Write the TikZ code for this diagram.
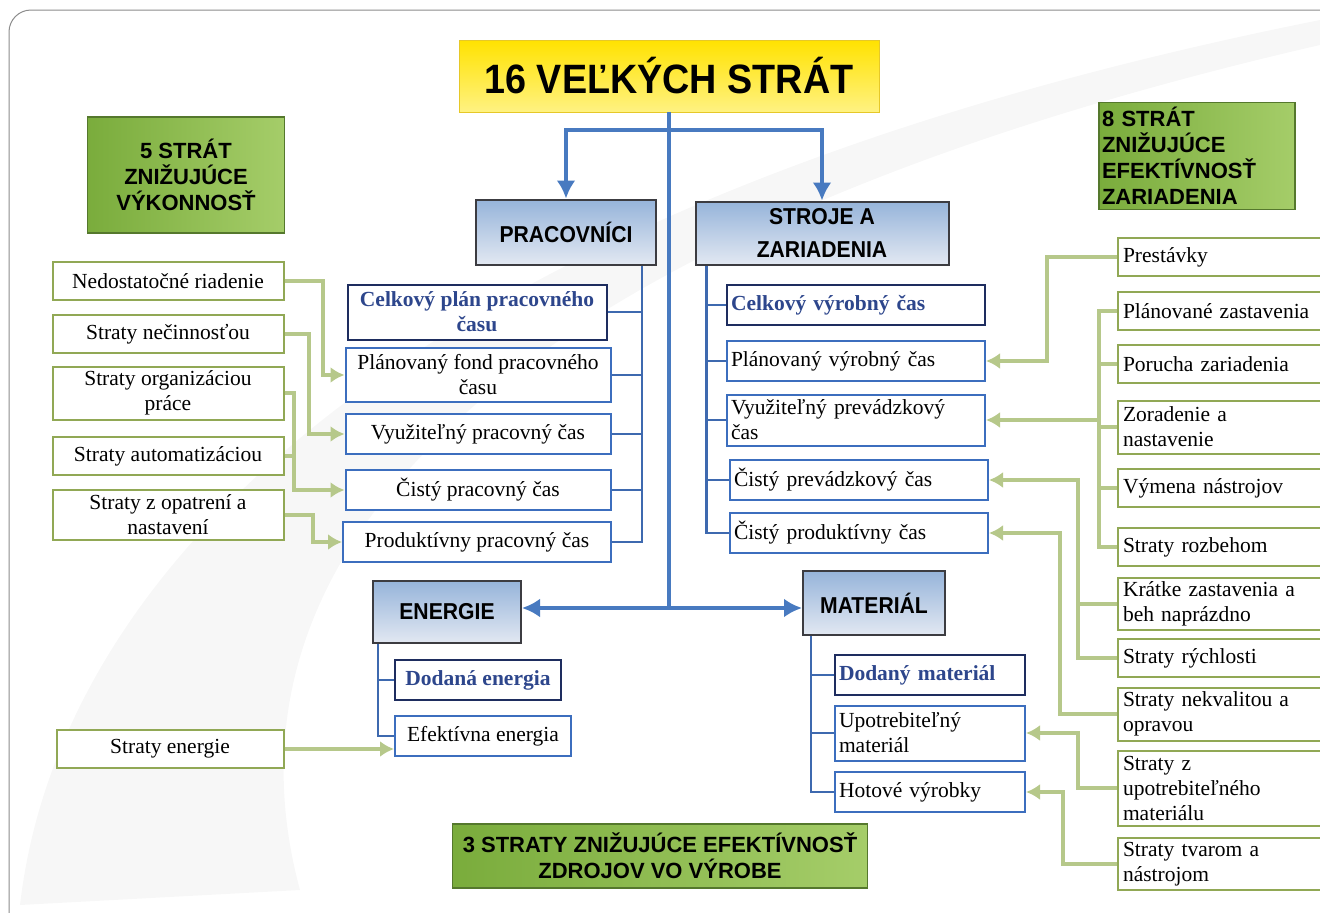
\documentclass[tikz,border=0pt]{standalone}
\usepackage{fontspec}
\setmainfont{Liberation Serif}
\setsansfont{Liberation Sans}
\newfontfamily\narrowsans[FakeStretch=0.92]{Liberation Sans}
\usepackage{tikz}
\usetikzlibrary{arrows.meta,positioning}

\definecolor{ytop}{RGB}{255,226,0}
\definecolor{ybot}{RGB}{255,242,130}
\definecolor{ybord}{RGB}{230,200,40}
\definecolor{hleft}{RGB}{122,172,60}
\definecolor{hright}{RGB}{165,205,105}
\definecolor{hbord}{RGB}{85,120,45}
\definecolor{ctop}{RGB}{150,180,218}
\definecolor{cbot}{RGB}{226,232,242}
\definecolor{cbord}{RGB}{60,60,65}
\definecolor{iblue}{RGB}{60,110,190}
\definecolor{navy}{RGB}{30,45,95}
\definecolor{navytext}{RGB}{45,70,140}
\definecolor{gbord}{RGB}{145,168,85}
\definecolor{fgreen}{RGB}{182,200,138}
\definecolor{mblue}{RGB}{72,122,192}
\definecolor{tblue}{RGB}{62,105,175}

\begin{document}
\begin{tikzpicture}[x=1pt, y=-1pt, >={Latex[length=14pt,width=16pt]}, font=\fontsize{21.5}{25}\selectfont]
      \tikzstyle{title}=[draw=ybord, line width=0.8pt, top color=ytop, bottom color=ybot, font=\narrowsans\bfseries\fontsize{41}{44}\selectfont, minimum width=420pt, minimum height=72pt]
      \tikzstyle{head}=[draw=hbord, line width=1.5pt, left color=hleft, right color=hright, font=\sffamily\bfseries\fontsize{22}{26}\selectfont, align=center, inner sep=3pt]
      \tikzstyle{cat}=[draw=cbord, line width=2pt, top color=ctop, bottom color=cbot, font=\narrowsans\bfseries\fontsize{23}{33}\selectfont, align=center]
      \tikzstyle{item}=[draw=iblue, line width=2pt, fill=white, inner xsep=4pt, inner ysep=1pt, align=center, minimum height=40pt]
      \tikzstyle{itemb}=[item, draw=navy, text=navytext, font=\bfseries\fontsize{21.5}{25}\selectfont]
      \tikzstyle{loss}=[draw=gbord, line width=2pt, fill=white, inner xsep=5pt, inner ysep=1pt, align=center, minimum height=38pt]
      \tikzstyle{rloss}=[loss, anchor=west, text width=205pt, align=left]
      \tikzstyle{main}=[draw=mblue, line width=4.5pt, >={Latex[length=18pt,width=19pt]}]
      \tikzstyle{tree}=[draw=tblue, line width=2.5pt]
      \tikzstyle{flow}=[draw=fgreen, line width=4pt]

      \useasboundingbox (0,0) rectangle (1320,913);
      \fill[black!3] (20,905) .. controls (60,560) and (420,200) .. (1320,20) -- (1320,45) .. controls (560,220) and (200,520) .. (300,890) -- cycle;
      \draw[black!45, line width=1pt, rounded corners=22pt] (9,10) rectangle (1360,940);

      \node[title] (t) at (669,76) {16 VEĽKÝCH STRÁT};
      \node[head, minimum width=197pt, minimum height=116pt] (h5) at (186,175) {5 STRÁT\\ZNIŽUJÚCE\\VÝKONNOSŤ};
      \node[head, text width=190pt, minimum height=107pt, align=left] (h8) at (1197,156) {8 STRÁT\\ZNIŽUJÚCE\\EFEKTÍVNOSŤ\\ZARIADENIA};
      \node[head, minimum width=415pt, minimum height=64pt] (h3) at (660,856) {3 STRATY ZNIŽUJÚCE EFEKTÍVNOSŤ\\ZDROJOV VO VÝROBE};

      \node[cat, minimum width=180pt, minimum height=65pt] (p) at (566,232) {PRACOVNÍCI};
      \node[cat, minimum width=253pt, minimum height=63pt] (s) at (822,233) {STROJE A\\ZARIADENIA};
      \node[cat, minimum width=148pt, minimum height=62pt] (e) at (447,612) {ENERGIE};
      \node[cat, minimum width=142pt, minimum height=64pt] (m) at (874,603) {MATERIÁL};

      \node[itemb, minimum width=259pt, minimum height=55pt] (p1) at (477,312) {Celkový plán pracovného\\času};
      \node[item, minimum width=265pt, minimum height=54pt] (p2) at (478,375) {Plánovaný fond pracovného\\času};
      \node[item, minimum width=265pt] (p3) at (478,434) {Využiteľný pracovný čas};
      \node[item, minimum width=265pt] (p4) at (478,490) {Čistý pracovný čas};
      \node[item, minimum width=268pt] (p5) at (477,542) {Produktívny pracovný čas};

      \node[itemb, text width=250pt, align=left] (s1) at (856,305) {Celkový výrobný čas};
      \node[item, text width=250pt, align=left] (s2) at (856,361) {Plánovaný výrobný čas};
      \node[item, text width=250pt, align=left, minimum height=51pt] (s3) at (856,420) {Využiteľný prevádzkový\\čas};
      \node[item, text width=250pt, align=left] (s4) at (859,480) {Čistý prevádzkový čas};
      \node[item, text width=250pt, align=left] (s5) at (859,533) {Čistý produktívny čas};

      \node[itemb, minimum width=166pt] (e1) at (478,680) {Dodaná energia};
      \node[item, minimum width=176pt] (e2) at (483,736) {Efektívna energia};

      \node[itemb, text width=182pt, align=left] (m1) at (930,675) {Dodaný materiál};
      \node[item, text width=182pt, align=left, minimum height=55pt] (m2) at (930,733) {Upotrebiteľný\\materiál};
      \node[item, text width=182pt, align=left] (m3) at (930,792) {Hotové výrobky};

      \node[loss, minimum width=231pt] (l1) at (168,281) {Nedostatočné riadenie};
      \node[loss, minimum width=231pt] (l2) at (168,334) {Straty nečinnosťou};
      \node[loss, minimum width=231pt, minimum height=53pt] (l3) at (168,393) {Straty organizáciou\\práce};
      \node[loss, minimum width=231pt] (l4) at (168,456) {Straty automatizáciou};
      \node[loss, minimum width=231pt, minimum height=50pt] (l5) at (168,515) {Straty z opatrení a\\nastavení};
      \node[loss, minimum width=227pt] (l6) at (170,749) {Straty energie};

      \node[rloss] (r1) at (1117,257) {Prestávky};
      \node[rloss] (r2) at (1117,311) {Plánované zastavenia};
      \node[rloss] (r3) at (1117,364) {Porucha zariadenia};
      \node[rloss, minimum height=53pt] (r4) at (1117,427) {Zoradenie a\\nastavenie};
      \node[rloss] (r5) at (1117,488) {Výmena nástrojov};
      \node[rloss] (r6) at (1117,547) {Straty rozbehom};
      \node[rloss, minimum height=52pt] (r7) at (1117,604) {Krátke zastavenia a\\beh naprázdno};
      \node[rloss] (r8) at (1117,658) {Straty rýchlosti};
      \node[rloss, minimum height=53pt] (r9) at (1117,714) {Straty nekvalitou a\\opravou};
      \node[rloss, minimum height=75pt] (r10) at (1117,788) {Straty z\\upotrebiteľného\\materiálu};
      \node[rloss, minimum height=52pt] (r11) at (1117,864) {Straty tvarom a\\nástrojom};

      \coordinate (k) at (669,130);
      \coordinate (j) at (669,608);
      \draw[main] (t.south) -- (j);
      \draw[main, ->] (k) -| (p.north);
      \draw[main, ->] (k) -| (s.north);
      \draw[main, ->] (j) -- (e.east |- j);
      \draw[main, ->] (j) -- (m.west |- j);

      \coordinate (pb) at ([xshift=-15pt]p.south east);
      \coordinate (sb) at ([xshift=12pt]s.south west);
      \coordinate (eb) at ([xshift=6pt]e.south west);
      \coordinate (mb) at ([xshift=9pt]m.south west);
      \draw[tree] (pb) |- (p5.east);
      \foreach \n in {p1,p2,p3,p4} \draw[tree] (\n.east) -- (\n.east -| pb);
      \draw[tree] (sb) |- (s5.west);
      \foreach \n in {s1,s2,s3,s4} \draw[tree] (\n.west) -- (\n.west -| sb);
      \draw[tree] (eb) |- (e2.west);
      \draw[tree] (e1.west) -- (e1.west -| eb);
      \draw[tree] (mb) |- (m3.west);
      \foreach \n in {m1,m2} \draw[tree] (\n.west) -- (\n.west -| mb);

      \draw[flow, ->] (l1.east) -- ++(38,0) |- (p2.west);
      \draw[flow, ->] (l2.east) -- ++(24,0) |- (p3.west);
      \draw[flow, ->] (l3.east) -- ++(9,0) |- (p4.west);
      \draw[flow] (l4.east) -- ++(9,0);
      \draw[flow, ->] (l5.east) -- ++(28,0) |- (p5.west);
      \draw[flow, ->] (l6.east) -- (l6.east -| e2.west);

      \draw[flow, ->] (r1.west) -- ++(-70,0) |- (s2.east);
      \draw[flow] (r2.west) -- ++(-18,0) |- (r6.west);
      \foreach \n in {r3,r4,r5} \draw[flow] (\n.west) -- ++(-18,0);
      \path (r2.west) ++(-18,0) coordinate (rb0);
      \coordinate (rb) at (rb0 |- s3.east);
      \draw[flow, ->] (rb) -- (s3.east);
      \draw[flow] (r7.west) -- ++(-39,0);
      \draw[flow, ->] (r8.west) -- ++(-39,0) |- (s4.east);
      \draw[flow, ->] (r9.west) -- ++(-57,0) |- (s5.east);
      \draw[flow, ->] (r10.west) -- ++(-39,0) |- (m2.east);
      \draw[flow, ->] (r11.west) -- ++(-54,0) |- (m3.east);
    \end{tikzpicture}
\end{document}
